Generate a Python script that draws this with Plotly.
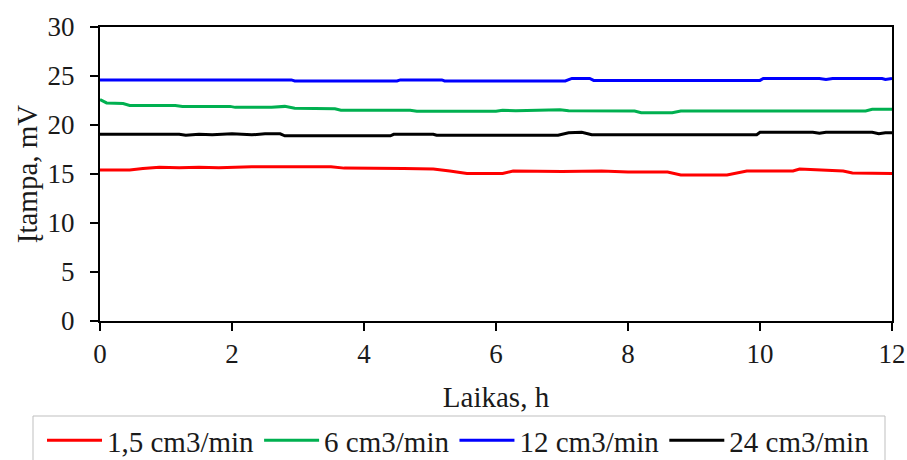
import plotly.graph_objects as go

# Time (h) and voltage (mV)
t_red = [0, 0.45, 0.65, 0.9, 1.2, 1.5, 1.8, 2.3, 3.5, 3.7, 4.6, 5.05, 5.3, 5.56, 6.1, 6.26, 7.0, 7.6, 8.0, 8.6, 8.8, 9.5, 9.8, 10.5, 10.6, 10.9, 11.26, 11.4, 12]
v_red = [15.4, 15.4, 15.55, 15.7, 15.65, 15.7, 15.65, 15.75, 15.75, 15.6, 15.55, 15.5, 15.3, 15.05, 15.05, 15.3, 15.25, 15.3, 15.2, 15.2, 14.9, 14.9, 15.3, 15.3, 15.5, 15.4, 15.3, 15.1, 15.05]

t_green = [0, 0.1, 0.35, 0.45, 1.14, 1.25, 1.97, 2.05, 2.6, 2.8, 2.95, 3.56, 3.65, 4.7, 4.8, 6.0, 6.1, 6.3, 6.97, 7.1, 8.1, 8.2, 8.67, 8.8, 11.6, 11.7, 12]
v_green = [22.6, 22.25, 22.2, 22.0, 22.0, 21.9, 21.9, 21.8, 21.8, 21.9, 21.7, 21.65, 21.5, 21.5, 21.4, 21.4, 21.5, 21.45, 21.55, 21.45, 21.43, 21.25, 21.25, 21.43, 21.43, 21.6, 21.6]

t_blue = [0, 2.9, 2.95, 4.5, 4.55, 5.18, 5.22, 7.05, 7.15, 7.42, 7.48, 10.0, 10.05, 10.9, 11.0, 11.1, 11.85, 11.9, 12]
v_blue = [24.6, 24.6, 24.5, 24.5, 24.6, 24.6, 24.5, 24.5, 24.75, 24.75, 24.55, 24.55, 24.75, 24.75, 24.65, 24.75, 24.75, 24.65, 24.75]

t_black = [0, 1.2, 1.3, 1.5, 1.7, 2.0, 2.3, 2.5, 2.73, 2.8, 4.4, 4.45, 5.05, 5.1, 6.94, 7.1, 7.3, 7.45, 9.95, 10.0, 10.8, 10.9, 11.0, 11.7, 11.8, 11.9, 12]
v_black = [19.05, 19.05, 18.95, 19.05, 19.0, 19.1, 19.0, 19.1, 19.1, 18.9, 18.9, 19.05, 19.05, 18.95, 18.95, 19.2, 19.25, 19.0, 19.0, 19.25, 19.25, 19.15, 19.25, 19.25, 19.1, 19.2, 19.2]

series = [
    ("1,5 cm3/min", t_red, v_red, "#FF0000"),
    ("6 cm3/min", t_green, v_green, "#00B050"),
    ("12 cm3/min", t_blue, v_blue, "#0000FF"),
    ("24 cm3/min", t_black, v_black, "#000000"),
]

x_ticks = [0, 2, 4, 6, 8, 10, 12]
y_ticks = [0, 5, 10, 15, 20, 25, 30]

FONT = "Liberation Serif, Times New Roman, serif"
TXT = "#1a1a1a"

fig = go.Figure()
for name, t, v, c in series:
    fig.add_trace(go.Scatter(x=t, y=v, mode="lines", name=name,
                             line=dict(color=c, width=3)))

W, H = 907, 460
ml, mr, mt, mb = 100, 15, 27, 139
pw, ph = W - ml - mr, H - mt - mb

def px_x(p):
    return (p - ml) / pw

def px_y(p):
    return (H - mb - p) / ph

fig.update_layout(
    width=W, height=H,
    margin=dict(l=ml, r=mr, t=mt, b=mb, autoexpand=False),
    paper_bgcolor="white", plot_bgcolor="white",
    font=dict(family=FONT, size=27, color=TXT),
    showlegend=True,
    legend=dict(orientation="h", x=px_x(42), y=px_y(415), xanchor="left", yanchor="top",
                font=dict(family=FONT, size=29, color=TXT),
                bgcolor="rgba(0,0,0,0)", borderwidth=0, itemwidth=55,
                traceorder="normal"),
    shapes=[dict(type="rect", xref="paper", yref="paper",
                 x0=px_x(33), x1=px_x(885), y0=px_y(472), y1=px_y(416),
                 line=dict(color="#BFBFBF", width=1), fillcolor="rgba(0,0,0,0)",
                 layer="below")],
)
fig.update_xaxes(range=[0, 12], tickvals=x_ticks, ticktext=[str(v) for v in x_ticks],
                 showgrid=False, zeroline=False, automargin=False,
                 showline=True, linecolor="black", linewidth=2, mirror=True,
                 ticks="outside", ticklen=8, tickwidth=2, tickcolor="black",
                 tickfont=dict(family=FONT, size=27, color=TXT),
                 title=dict(text="Laikas, h", font=dict(family=FONT, size=29, color=TXT), standoff=18))
fig.update_yaxes(range=[0, 30], tickvals=y_ticks, ticktext=[str(v) for v in y_ticks],
                 showgrid=False, zeroline=False, automargin=False,
                 showline=True, linecolor="black", linewidth=2, mirror=True,
                 ticks="outside", ticklen=8, tickwidth=2, tickcolor="black",
                 ticklabelstandoff=10,
                 tickfont=dict(family=FONT, size=27, color=TXT),
                 title=dict(text="Įtampa, mV", font=dict(family=FONT, size=29, color=TXT), standoff=1))

fig.write_html("out.html")
